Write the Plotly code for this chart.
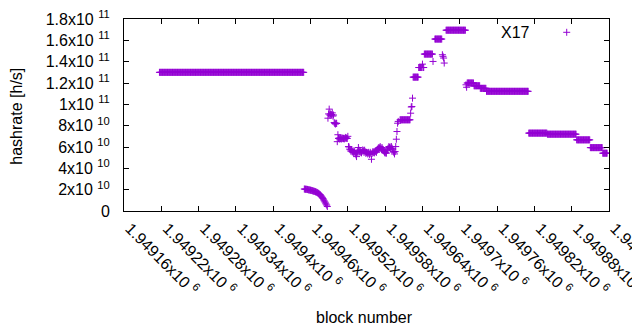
import plotly.graph_objects as go

# ---- data (hashrate in units of 1e9 h/s) ----
# flat / near-constant runs: start block, end block (inclusive), value
RUN_START = [1949217, 1949604, 1949625, 1949634, 1949641, 1949643, 1949660, 1949678,
             1949712, 1949723, 1949733, 1949743, 1949811, 1949841, 1949888, 1949910, 1949930]
RUN_END = [1949449, 1949620, 1949633, 1949639, 1949642, 1949656, 1949671, 1949709,
           1949722, 1949732, 1949742, 1949810, 1949840, 1949887, 1949909, 1949929, 1949937]
RUN_VALUE = [130.0, 85.5, 125.5, 134.5, 134.5, 147.1, 161.2, 169.5,
             120.0, 117.4, 115.0, 112.2, 73.0, 72.0, 66.7, 59.4, 54.2]

# irregular stretch, one value per block starting at IRR_START
IRR_START = 1949450
IRR_VALUES = [
    20.6, 20.5, 20.4, 20.4, 20.3, 20.2, 20.0, 19.8, 19.8, 19.6,
    19.5, 19.4, 19.2, 19.0, 18.8, 18.6, 18.5, 18.3, 18.0, 17.8,
    17.5, 17.2, 16.8, 16.5, 16.0, 15.5, 15.0, 14.2, 13.3, 12.5,
    11.7, 10.5, 9.5, 8.5, 7.5, 6.5, 5.5, 4.2,
    87.0, 91.0, 95.5, 90.0, 91.0, 89.5, 90.5, 92.0, 89.0, 90.0,
    83.0, 82.0, 81.5, 82.5, 82.0, 65.0, 71.5, 68.0, 68.5, 67.5,
    68.0, 68.5, 67.5, 68.0, 68.5, 68.0, 67.5, 68.0, 69.0, 68.0,
    68.5, 68.0, 70.0, 60.4, 60.0, 58.0, 57.3, 56.0, 57.3, 55.5,
    56.0, 55.0, 56.5, 55.5, 54.0, 52.6, 51.0, 55.0, 56.0, 59.5,
    57.0, 55.5, 56.0, 55.0, 54.5, 56.0, 57.3, 56.5, 55.0, 57.0,
    55.5, 54.0, 55.0, 54.7, 53.5, 55.0, 54.0, 53.0, 55.0, 54.0,
    48.5, 54.0, 55.5, 54.7, 55.7, 54.5, 56.0, 55.7, 55.0, 57.0,
    58.0, 58.9, 59.5, 58.9, 60.4, 59.0, 58.0, 59.5, 58.0, 57.0,
    56.0, 55.0, 54.2, 55.0, 54.2, 57.0, 58.0, 59.0, 60.4, 59.5,
    60.0, 58.5, 60.4, 59.0, 58.0, 56.0, 55.0, 53.5, 55.7, 60.4,
    67.3, 74.5, 82.3, 84.0,
]

# isolated single points
PT_BLOCK = [1949621, 1949622, 1949623, 1949624, 1949640, 1949657,
            1949672, 1949673, 1949674, 1949675, 1949710, 1949711]
PT_VALUE = [91.7, 97.5, 98.0, 105.8, 137.7, 140.2,
            146.5, 145.0, 143.4, 138.7, 118.3, 116.0]

XTICK_VALS = [1949160, 1949220, 1949280, 1949340, 1949400, 1949460, 1949520,
              1949580, 1949640, 1949700, 1949760, 1949820, 1949880, 1949940]
XTICK_MANT = ["1.94916", "1.94922", "1.94928", "1.94934", "1.9494", "1.94946", "1.94952",
              "1.94958", "1.94964", "1.9497", "1.94976", "1.94982", "1.94988", "1.94994"]
XTICK_EXP = "6"

YTICK_VALS = [0, 2e10, 4e10, 6e10, 8e10, 1e11, 1.2e11, 1.4e11, 1.6e11, 1.8e11]
YTICK_MANT = ["0", "2", "4", "6", "8", "1", "1.2", "1.4", "1.6", "1.8"]
YTICK_EXP = ["", "10", "10", "10", "10", "11", "11", "11", "11", "11"]

SERIES_NAME = "X17"
COLOR = "#9400D3"

# ---- assemble points ----
xs, ys = [], []
for s, e, v in zip(RUN_START, RUN_END, RUN_VALUE):
    for b in range(s, e + 1):
        xs.append(b)
        ys.append(v * 1e9)
for i, v in enumerate(IRR_VALUES):
    xs.append(IRR_START + i)
    ys.append(v * 1e9)
for b, v in zip(PT_BLOCK, PT_VALUE):
    xs.append(b)
    ys.append(v * 1e9)

FONT = "Liberation Sans, Arial, sans-serif"

xt_text = [m + "x10 <sup>" + XTICK_EXP + "</sup>" for m in XTICK_MANT]
yt_text = [m if not e else m + "x10 <sup>" + e + "</sup>" for m, e in zip(YTICK_MANT, YTICK_EXP)]

fig = go.Figure()
fig.add_trace(go.Scatter(
    x=xs, y=ys, mode="markers", name=SERIES_NAME, showlegend=False,
    marker=dict(symbol="cross-thin", size=5, color=COLOR,
                line=dict(width=1, color=COLOR)),
))

# key (gnuplot style: text then sample)
kx, ky = 0.9128, 0.9307
dx, dy = 3.5 / 485, 3.5 / 192
shapes = [
    dict(type="line", xref="paper", yref="paper", x0=kx - dx, x1=kx + dx, y0=ky, y1=ky,
         line=dict(color=COLOR, width=1)),
    dict(type="line", xref="paper", yref="paper", x0=kx, x1=kx, y0=ky - dy, y1=ky + dy,
         line=dict(color=COLOR, width=1)),
]

# the page body has an 8px default margin; the figure is sized to sit inside it
fig.update_layout(
    width=632, height=322,
    margin=dict(l=116, r=31, t=11, b=119, autoexpand=False),
    paper_bgcolor="white", plot_bgcolor="white",
    font=dict(family=FONT, size=16, color="black"),
    showlegend=False,
    shapes=shapes,
    annotations=[
        dict(text="hashrate [h/s]", xref="paper", yref="paper", x=-0.2212, y=0.495,
             textangle=-90, showarrow=False, xanchor="center", yanchor="middle",
             font=dict(size=16, family=FONT)),
        dict(text="block number", xref="paper", yref="paper", x=0.495, y=-0.557,
             showarrow=False, xanchor="center", yanchor="middle",
             font=dict(size=16, family=FONT)),
        dict(text=SERIES_NAME, xref="paper", yref="paper", x=0.8412, y=0.932,
             showarrow=False, xanchor="right", yanchor="middle",
             font=dict(size=16, family=FONT)),
    ],
    xaxis=dict(
        range=[XTICK_VALS[0], XTICK_VALS[-1]],
        tickmode="array", tickvals=XTICK_VALS, ticktext=xt_text,
        tickangle=45, ticks="inside", ticklen=5, tickcolor="black",
        showline=True, linecolor="black", linewidth=1, mirror="ticks",
        showgrid=False, zeroline=False, ticklabelstandoff=1, ticklabelshift=6,
        ticklabeloverflow="allow",
        tickfont=dict(size=16, family=FONT, color="black"),
    ),
    yaxis=dict(
        range=[0, 1.8e11],
        tickmode="array", tickvals=YTICK_VALS, ticktext=yt_text,
        ticks="inside", ticklen=5, tickcolor="black",
        showline=True, linecolor="black", linewidth=1, mirror="ticks",
        showgrid=False, zeroline=False, ticklabelstandoff=10,
        ticklabeloverflow="allow",
        tickfont=dict(size=16, family=FONT, color="black"),
    ),
)

fig.write_html("out.html")
